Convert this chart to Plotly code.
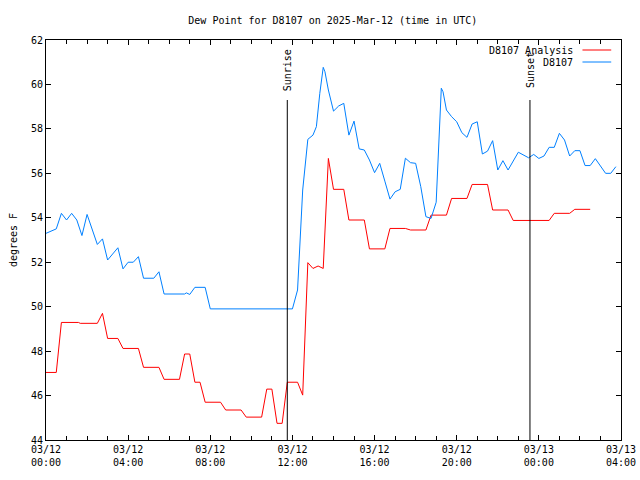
import plotly.graph_objects as go
import pandas as pd

# D8107 observed dew point (blue)
obs_times = ["2025-03-12 00:00", "2025-03-12 00:30", "2025-03-12 00:45", "2025-03-12 01:00", "2025-03-12 01:15",
             "2025-03-12 01:30", "2025-03-12 01:45", "2025-03-12 02:00", "2025-03-12 02:30", "2025-03-12 02:45",
             "2025-03-12 03:00", "2025-03-12 03:30", "2025-03-12 03:45", "2025-03-12 04:00", "2025-03-12 04:15",
             "2025-03-12 04:30", "2025-03-12 04:45", "2025-03-12 05:15", "2025-03-12 05:30", "2025-03-12 05:45",
             "2025-03-12 06:45", "2025-03-12 06:50", "2025-03-12 07:00", "2025-03-12 07:15", "2025-03-12 07:45",
             "2025-03-12 08:00", "2025-03-12 12:00", "2025-03-12 12:15", "2025-03-12 12:30", "2025-03-12 12:45",
             "2025-03-12 13:00", "2025-03-12 13:10", "2025-03-12 13:20", "2025-03-12 13:30", "2025-03-12 13:35",
             "2025-03-12 13:45", "2025-03-12 14:00", "2025-03-12 14:15", "2025-03-12 14:30", "2025-03-12 14:45",
             "2025-03-12 15:00", "2025-03-12 15:15", "2025-03-12 15:30", "2025-03-12 15:45", "2025-03-12 16:00",
             "2025-03-12 16:15", "2025-03-12 16:30", "2025-03-12 16:45", "2025-03-12 17:00", "2025-03-12 17:15",
             "2025-03-12 17:30", "2025-03-12 17:45", "2025-03-12 18:00", "2025-03-12 18:15", "2025-03-12 18:30",
             "2025-03-12 18:45", "2025-03-12 19:00", "2025-03-12 19:15", "2025-03-12 19:20", "2025-03-12 19:30",
             "2025-03-12 19:45", "2025-03-12 20:00", "2025-03-12 20:15", "2025-03-12 20:30", "2025-03-12 20:45",
             "2025-03-12 21:00", "2025-03-12 21:15", "2025-03-12 21:30", "2025-03-12 21:45", "2025-03-12 22:00",
             "2025-03-12 22:15", "2025-03-12 22:30", "2025-03-12 23:00", "2025-03-12 23:30", "2025-03-12 23:45",
             "2025-03-13 00:00", "2025-03-13 00:15", "2025-03-13 00:30", "2025-03-13 00:45", "2025-03-13 01:00",
             "2025-03-13 01:15", "2025-03-13 01:30", "2025-03-13 01:45", "2025-03-13 02:00", "2025-03-13 02:15",
             "2025-03-13 02:30", "2025-03-13 02:45", "2025-03-13 03:15", "2025-03-13 03:30", "2025-03-13 03:45"]
obs_values = [53.3, 53.5, 54.2, 53.9, 54.2,
              53.9, 53.2, 54.15, 52.8, 53.05,
              52.1, 52.65, 51.7, 52.0, 52.0,
              52.25, 51.28, 51.28, 51.57, 50.57,
              50.57, 50.62, 50.55, 50.87, 50.87,
              49.9, 49.9, 50.75, 55.25, 57.53,
              57.72, 58.1, 59.6, 60.77, 60.57,
              59.75, 58.8, 59.03, 59.15, 57.72,
              58.35, 57.1, 57.05, 56.6, 56.03,
              56.45, 55.65, 54.84, 55.17, 55.28,
              56.68, 56.48, 56.45, 55.4, 54.05,
              53.97, 54.7, 59.83, 59.67, 58.85,
              58.55, 58.32, 57.83, 57.62, 58.22,
              58.32, 56.87, 57.0, 57.47, 56.15,
              56.57, 56.15, 56.95, 56.7, 56.85,
              56.67, 56.78, 57.17, 57.17, 57.8,
              57.5, 56.78, 57.02, 57.02, 56.35,
              56.35, 56.66, 56.0, 56.0, 56.3]

# D8107 Analysis (red)
ana_times = ["2025-03-12 00:00", "2025-03-12 00:30", "2025-03-12 00:45", "2025-03-12 01:35", "2025-03-12 01:40",
             "2025-03-12 02:30", "2025-03-12 02:45", "2025-03-12 03:00", "2025-03-12 03:30", "2025-03-12 03:45",
             "2025-03-12 04:30", "2025-03-12 04:45", "2025-03-12 05:30", "2025-03-12 05:45", "2025-03-12 06:30",
             "2025-03-12 06:45", "2025-03-12 07:00", "2025-03-12 07:15", "2025-03-12 07:30", "2025-03-12 07:45",
             "2025-03-12 08:30", "2025-03-12 08:45", "2025-03-12 09:30", "2025-03-12 09:45", "2025-03-12 10:30",
             "2025-03-12 10:45", "2025-03-12 11:00", "2025-03-12 11:15", "2025-03-12 11:30", "2025-03-12 11:45",
             "2025-03-12 12:15", "2025-03-12 12:30", "2025-03-12 12:45", "2025-03-12 13:00", "2025-03-12 13:15",
             "2025-03-12 13:30", "2025-03-12 13:45", "2025-03-12 14:00", "2025-03-12 14:30", "2025-03-12 14:45",
             "2025-03-12 15:30", "2025-03-12 15:45", "2025-03-12 16:30", "2025-03-12 16:45", "2025-03-12 17:30",
             "2025-03-12 17:45", "2025-03-12 18:30", "2025-03-12 18:45", "2025-03-12 19:30", "2025-03-12 19:45",
             "2025-03-12 20:30", "2025-03-12 20:45", "2025-03-12 21:30", "2025-03-12 21:45", "2025-03-12 22:30",
             "2025-03-12 22:45", "2025-03-13 00:30", "2025-03-13 00:45", "2025-03-13 01:30", "2025-03-13 01:45",
             "2025-03-13 02:30"]
ana_values = [47.04, 47.04, 49.29, 49.29, 49.25,
              49.25, 49.7, 48.57, 48.57, 48.12,
              48.12, 47.27, 47.27, 46.73, 46.73,
              47.87, 47.87, 46.6, 46.6, 45.7,
              45.7, 45.35, 45.35, 45.03, 45.03,
              46.29, 46.29, 44.75, 44.75, 46.6,
              46.6, 46.02, 51.98, 51.72, 51.83,
              51.72, 56.67, 55.28, 55.28, 53.9,
              53.9, 52.6, 52.6, 53.52, 53.52,
              53.45, 53.45, 54.12, 54.12, 54.87,
              54.87, 55.5, 55.5, 54.35, 54.35,
              53.88, 53.88, 54.2, 54.2, 54.38,
              54.38]

sun_events = ["Sunrise", "Sunset"]
sun_times = ["2025-03-12 11:45", "2025-03-12 23:34"]

x_start, x_end = "2025-03-12 00:00", "2025-03-13 04:00"
y_min, y_max = 44, 62
y_ticks = [44, 46, 48, 50, 52, 54, 56, 58, 60, 62]

RED = "#ff0000"
BLUE = "#0080ff"
FONT = "DejaVu Sans Mono"

fig = go.Figure()
fig.add_trace(go.Scatter(x=pd.to_datetime(ana_times), y=ana_values, mode="lines",
                         line=dict(color=RED, width=1), name="D8107 Analysis", showlegend=False))
fig.add_trace(go.Scatter(x=pd.to_datetime(obs_times), y=obs_values, mode="lines",
                         line=dict(color=BLUE, width=1), name="D8107", showlegend=False))

for name, t in zip(sun_events, sun_times):
    fig.add_shape(type="line", xref="x", yref="paper", x0=t, x1=t, y0=0, y1=0.85,
                  line=dict(color="black", width=1))
    fig.add_annotation(x=t, xref="x", y=0.925, yref="paper", text=name, textangle=-90,
                       showarrow=False, xanchor="center", yanchor="middle", xshift=1,
                       font=dict(family=FONT, size=10, color="black"))

# legend (text left of line sample, as in the original)
legend_items = [("D8107 Analysis", RED, 0.975), ("D8107", BLUE, 0.945)]
for label, color, yy in legend_items:
    fig.add_annotation(x=0.92, xref="paper", y=yy, yref="paper", text=label, showarrow=False,
                       xanchor="right", yanchor="middle", font=dict(family=FONT, size=10, color="black"))
    fig.add_shape(type="line", xref="paper", yref="paper", x0=0.933, x1=0.983, y0=yy, y1=yy,
                  line=dict(color=color, width=1))

fig.update_layout(
    width=640, height=480,
    margin=dict(l=46, r=19, t=40, b=40, autoexpand=False),
    paper_bgcolor="white", plot_bgcolor="white",
    font=dict(family=FONT, size=10, color="black"),
    title=dict(text="Dew Point for D8107 on 2025-Mar-12 (time in UTC)", x=0.52, xanchor="center",
               y=1 - 20 / 480, yanchor="middle", font=dict(family=FONT, size=10, color="black")),
    showlegend=False,
)
fig.update_xaxes(range=[x_start, x_end], showgrid=False, zeroline=False, automargin=False,
                 showline=True, linecolor="black", linewidth=1, mirror="ticks",
                 ticks="inside", ticklen=5, tickcolor="black",
                 tick0=x_start, dtick=4 * 3600000, tickformat="%m/%d<br>%H:%M",
                 minor=dict(dtick=3600000, ticks="inside", ticklen=4, tickcolor="black", showgrid=False),
                 tickfont=dict(family=FONT, size=10, color="black"))
fig.update_yaxes(range=[y_min, y_max], showgrid=False, zeroline=False, automargin=False,
                 showline=True, linecolor="black", linewidth=1, mirror="ticks",
                 ticks="inside", ticklen=5, tickcolor="black",
                 tickvals=y_ticks, ticktext=[str(v) for v in y_ticks],
                 tickfont=dict(family=FONT, size=10, color="black"),
                 title=dict(text="degrees F", standoff=11, font=dict(family=FONT, size=10, color="black")))

fig.write_html("out.html")
